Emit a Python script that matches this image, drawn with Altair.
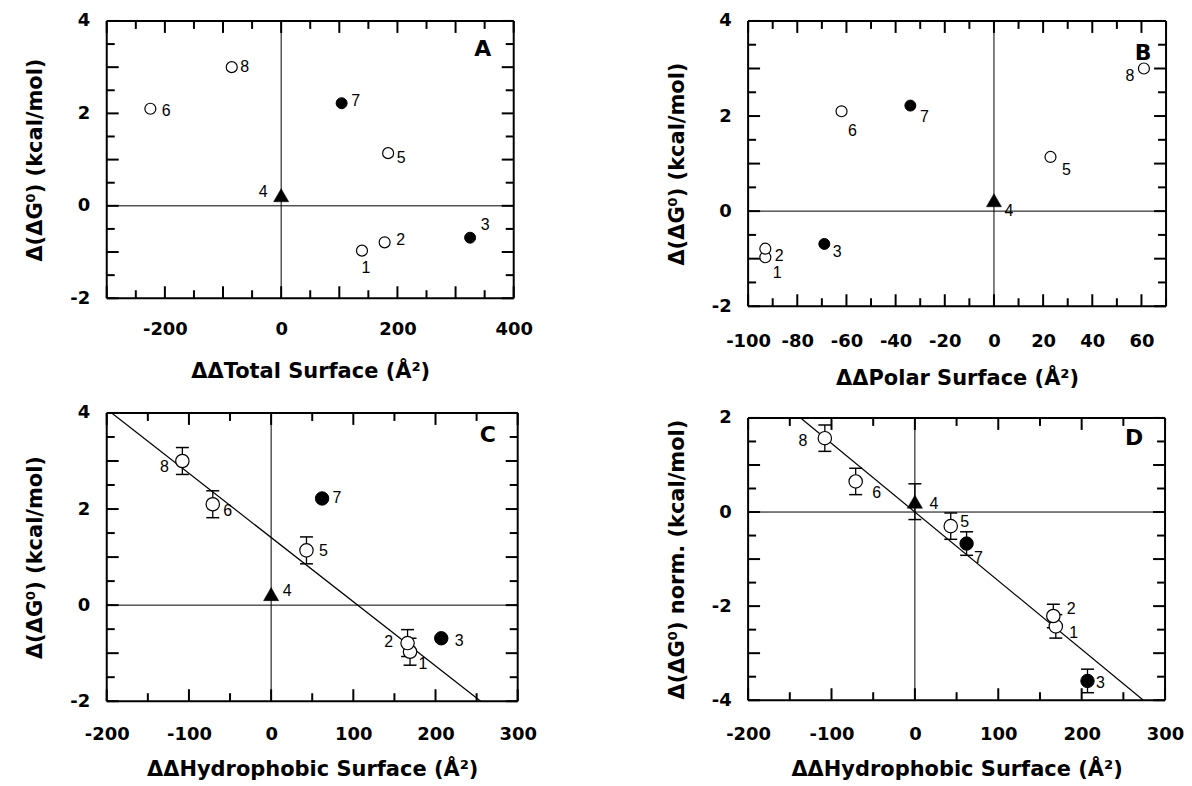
import altair as alt
import pandas as pd

FONT = "Liberation Sans"
AXFONT = "DejaVu Sans"

# ---------------- data ----------------
ids = [1, 2, 3, 4, 5, 6, 7, 8]
kinds = ["open", "open", "filled", "tri", "open", "open", "filled", "open"]
ddg = [-0.97, -0.79, -0.69, 0.23, 1.14, 2.10, 2.22, 3.00]
ddg_norm = [-2.43, -2.21, -3.59, 0.22, -0.30, 0.65, -0.67, 1.57]
total_surface = [139, 178, 325, 0, 184, -225, 104, -85]
polar_surface = [-93, -93, -69, 0, 23, -62, -34, 61]
hydrophobic_surface = [169, 166, 207, 0, 43, -71, 62, -108]
err_c = [0.28, 0.28, None, None, 0.28, 0.28, None, 0.28]
err_d = [0.25, 0.25, 0.25, 0.38, 0.28, 0.28, 0.25, 0.28]
fit_c_x = [-194, 255]
fit_c_y = [4, -2]
fit_d_x = [-137, 274]
fit_d_y = [2, -4]
panel_letters = ["A", "B", "C", "D"]

# axis tick values
a_x_labels = [-200, 0, 200, 400]
a_x_major = [-300, -200, -100, 0, 100, 200, 300, 400]
a_x_minor = [-250, -150, -50, 50, 150, 250, 350]
b_x_labels = [-100, -80, -60, -40, -20, 0, 20, 40, 60]
b_x_major = [-100, -80, -60, -40, -20, 0, 20, 40, 60]
b_x_minor = [-90, -70, -50, -30, -10, 10, 30, 50, 70]
h_x_labels = [-200, -100, 0, 100, 200, 300]
h_x_major = [-200, -100, 0, 100, 200, 300]
h_x_minor = [-150, -50, 50, 150, 250]
y1_labels = [-2, 0, 2, 4]
y1_major = [-2, -1, 0, 1, 2, 3, 4]
y1_minor = [-1.5, -0.5, 0.5, 1.5, 2.5, 3.5]
y2_labels = [-4, -2, 0, 2]
y2_major = [-4, -3, -2, -1, 0, 1, 2]
y2_minor = [-3.5, -2.5, -1.5, -0.5, 0.5, 1.5]

# ---------------- style ----------------
LABEL_OFFSETS = {
    "A": {1: (4, 17), 2: (16, -2), 3: (15, -13), 4: (-18, -3), 5: (13, 5), 6: (16, 2), 7: (14, -2), 8: (13, 0)},
    "B": {1: (12, 16), 2: (14, 7), 3: (13, 8), 4: (15, 11), 5: (16, 13), 6: (11, 20), 7: (14, 11), 8: (-14, 8)},
    "C": {1: (13, 12), 2: (-19, -1), 3: (18, 3), 4: (16, -3), 5: (17, 1), 6: (15, 7), 7: (15, 0), 8: (-18, 6)},
    "D": {1: (18, 7), 2: (18, -7), 3: (13, 2), 4: (19, 2), 5: (14, -4), 6: (21, 12), 7: (12, 14), 8: (-22, 3)},
}
LETTER_POS = {"A": (31, 28), "B": (23, 32), "C": (30, 22), "D": (31, 20)}
MAJ, MIN = 12, 8
TICK_W = 2
FRAME_W = 2


def panel(letter, xs, ys, errs, fit, xdom, ydom, xlabels, ylabels,
          xmaj, xmin, ymaj, ymin, xtitle, ytitle, W, H, csize, lpad_x, tpad_x):
    df = pd.DataFrame({"id": ids, "kind": kinds, "x": xs, "y": ys,
                       "err": errs if errs is not None else [None] * len(ids)})
    xscale = alt.Scale(domain=xdom, nice=False, zero=False)
    yscale = alt.Scale(domain=ydom, nice=False, zero=False)
    xaxis = alt.Axis(values=xlabels, ticks=False, domain=False, grid=False,
                     labelExpr="'' + datum.value", labelFlush=False, labelOverlap=False,
                     labelPadding=lpad_x, titlePadding=tpad_x)
    yaxis = alt.Axis(values=ylabels, ticks=False, domain=False, grid=False,
                     labelExpr="'' + datum.value", labelOverlap=False,
                     labelPadding=17, titlePadding=24)
    X = alt.X("x:Q", scale=xscale, axis=xaxis, title=xtitle)
    Y = alt.Y("y:Q", scale=yscale, axis=yaxis, title=ytitle)
    XE = alt.X("edge:Q", scale=xscale, axis=xaxis, title=xtitle)
    YE = alt.Y("edge:Q", scale=yscale, axis=yaxis, title=ytitle)

    x0, x1 = xdom
    y0, y1 = ydom
    xper = (x1 - x0) / W   # data units per pixel
    yper = (y1 - y0) / H

    layers = []
    # zero lines
    layers.append(alt.Chart(pd.DataFrame({"x": [0]})).mark_rule(color="black", strokeWidth=1).encode(x=X))
    layers.append(alt.Chart(pd.DataFrame({"y": [0]})).mark_rule(color="black", strokeWidth=1).encode(y=Y))
    # frame
    layers.append(alt.Chart(pd.DataFrame({"x": xdom})).mark_rule(color="black", strokeWidth=FRAME_W).encode(x=X))
    layers.append(alt.Chart(pd.DataFrame({"y": ydom})).mark_rule(color="black", strokeWidth=FRAME_W).encode(y=Y))

    # inward ticks on all four sides (tick length converted from pixels)
    for vals, ln in ((xmaj, MAJ), (xmin, MIN)):
        for base_v, sign in ((y0, 1), (y1, -1)):
            d = pd.DataFrame({"x": vals, "edge": [base_v] * len(vals)})
            layers.append(alt.Chart(d).transform_calculate(
                tip=f"datum.edge + {sign * ln * yper}"
            ).mark_rule(color="black", strokeWidth=TICK_W).encode(x=X, y=YE, y2="tip:Q"))
    for vals, ln in ((ymaj, MAJ), (ymin, MIN)):
        for base_v, sign in ((x0, 1), (x1, -1)):
            d = pd.DataFrame({"y": vals, "edge": [base_v] * len(vals)})
            layers.append(alt.Chart(d).transform_calculate(
                tip=f"datum.edge + {sign * ln * xper}"
            ).mark_rule(color="black", strokeWidth=TICK_W).encode(y=Y, x=XE, x2="tip:Q"))

    # regression line
    if fit is not None:
        fd = pd.DataFrame({"x": fit[0], "y": fit[1]})
        layers.append(alt.Chart(fd).mark_line(color="black", strokeWidth=1.2).encode(x=X, y=Y))

    # error bars
    if errs is not None:
        base = alt.Chart(df).transform_filter("isValid(datum.err)").transform_calculate(
            lo="datum.y - datum.err", hi="datum.y + datum.err")
        Ylo = alt.Y("lo:Q", scale=yscale, axis=yaxis, title=ytitle)
        Yhi = alt.Y("hi:Q", scale=yscale, axis=yaxis, title=ytitle)
        layers.append(base.mark_rule(color="black", strokeWidth=1.3).encode(x=X, y=Ylo, y2="hi:Q"))
        layers.append(base.mark_tick(orient="horizontal", size=13, thickness=1.5, color="black",
                                     opacity=1).encode(x=X, y=Ylo))
        layers.append(base.mark_tick(orient="horizontal", size=13, thickness=1.5, color="black",
                                     opacity=1).encode(x=X, y=Yhi))

    # points
    layers.append(alt.Chart(df).transform_filter("datum.kind == 'open'").mark_point(
        shape="circle", filled=True, fill="white", stroke="black", strokeWidth=1.2,
        size=csize, opacity=1).encode(x=X, y=Y))
    layers.append(alt.Chart(df).transform_filter("datum.kind == 'filled'").mark_point(
        shape="circle", filled=True, fill="black", stroke="black", strokeWidth=1,
        size=csize, opacity=1).encode(x=X, y=Y))
    layers.append(alt.Chart(df).transform_filter("datum.kind == 'tri'").mark_point(
        shape="triangle-up", filled=True, fill="black", stroke="black", strokeWidth=0.5,
        size=230, opacity=1).encode(x=X, y=Y))

    # point labels
    for pid, (dx, dy) in LABEL_OFFSETS[letter].items():
        layers.append(alt.Chart(df).transform_filter(f"datum.id == {pid}").mark_text(
            font=FONT, fontSize=16, color="black", dx=dx, dy=dy,
            align="center", baseline="middle").encode(x=X, y=Y, text="id:N"))

    # panel letter
    rx, ty = LETTER_POS[letter]
    layers.append(alt.Chart(pd.DataFrame({"t": [letter]})).mark_text(
        font=AXFONT, fontSize=22, fontWeight="bold", color="black",
        align="center", baseline="middle").encode(
        x=alt.value(W - rx), y=alt.value(ty), text="t:N"))

    return alt.layer(*layers).properties(width=W, height=H)


YT = "Δ(ΔG⁰) (kcal/mol)"
YT_N = "Δ(ΔG⁰) norm. (kcal/mol)"

pA = panel("A", total_surface, ddg, None, None, [-300, 400], [-2, 4],
           a_x_labels, y1_labels, a_x_major, a_x_minor, y1_major, y1_minor,
           "ΔΔTotal Surface (Å²)", YT, 408, 278, 121, 22, 22)
pB = panel("B", polar_surface, ddg, None, None, [-100, 70], [-2, 4],
           b_x_labels, y1_labels, b_x_major, b_x_minor, y1_major, y1_minor,
           "ΔΔPolar Surface (Å²)", YT, 419, 286, 121, 26, 17)
pC = panel("C", hydrophobic_surface, ddg, err_c, (fit_c_x, fit_c_y), [-200, 300], [-2, 4],
           h_x_labels, y1_labels, h_x_major, h_x_minor, y1_major, y1_minor,
           "ΔΔHydrophobic Surface (Å²)", YT, 412, 289, 180, 24, 15)
pD = panel("D", hydrophobic_surface, ddg_norm, err_d, (fit_d_x, fit_d_y), [-200, 300], [-4, 2],
           h_x_labels, y2_labels, h_x_major, h_x_minor, y2_major, y2_minor,
           "ΔΔHydrophobic Surface (Å²)", YT_N, 418, 283, 180, 25, 15)

left = alt.vconcat(pA, pC, spacing=23)
right = alt.vconcat(pB, pD, spacing=21)

chart = alt.hconcat(left, right, spacing=130).properties(
    padding={"left": 17, "top": 3, "right": 0, "bottom": 0},
    background="white",
).configure_view(
    stroke=None
).configure_axis(
    labelFont=AXFONT, labelFontWeight="bold", labelFontSize=18, labelColor="black",
    titleFont=AXFONT, titleFontWeight="bold", titleFontSize=21, titleColor="black",
)

chart.save("out.html", embed_options={"renderer": "svg", "actions": False})
